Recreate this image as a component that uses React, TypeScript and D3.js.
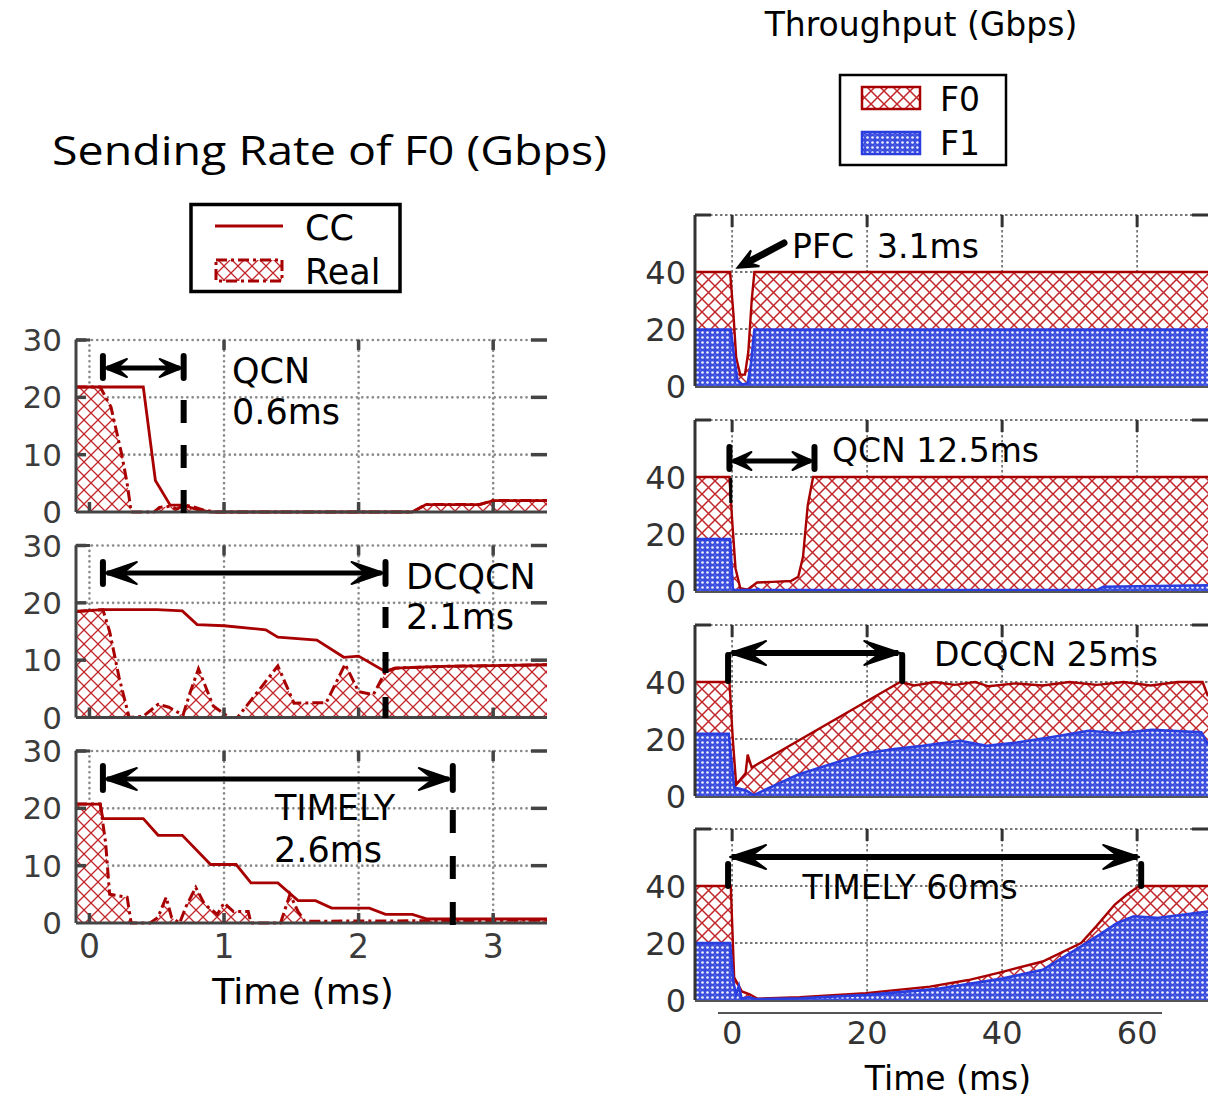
import React from "react";
import * as d3 from "d3";

type P = [number, number];

// ---------- axes / ticks ----------
const leftXTicks = [0, 1, 2, 3];
const leftYTicks = [0, 10, 20, 30];
const rightXTicks = [0, 20, 40, 60];
const rightYTicks = [0, 20, 40];

// ---------- left: sending rate of F0 (Gbps) vs time (ms) ----------
const qcnCC: P[] = [[-0.1, 21.8], [0.4, 21.8], [0.49, 5.5], [0.6, 1.2], [0.7, 1.2], [0.8, 0.4], [0.9, 0], [2.4, 0], [2.5, 1.3], [2.9, 1.3], [3.0, 2], [3.4, 2]];
const qcnReal: P[] = [[-0.1, 21.8], [0.08, 21.8], [0.16, 18.3], [0.24, 10], [0.28, 5], [0.31, 0], [0.48, 0], [0.52, 0.8], [0.6, 1], [0.65, 0.5], [0.7, 1.2], [0.76, 1], [0.85, 0.3], [0.95, 0], [2.4, 0], [2.5, 1.3], [2.9, 1.3], [3.0, 2], [3.4, 2]];

const dcqcnCC: P[] = [[-0.1, 18.5], [0.1, 18.8], [0.5, 18.8], [0.69, 18.6], [0.8, 16.2], [1.0, 16], [1.31, 15.3], [1.4, 14], [1.69, 13.5], [1.89, 10.5], [2.0, 10.7], [2.2, 8], [2.27, 8.6], [2.6, 8.9], [3.4, 9.2]];
const dcqcnReal: P[] = [[-0.1, 18.5], [0.1, 18.8], [0.15, 15], [0.22, 7], [0.295, 0], [0.4, 0.2], [0.51, 2.3], [0.59, 1.8], [0.695, 0.4], [0.75, 4.5], [0.81, 8.5], [0.92, 2], [1.04, 0], [1.1, 0], [1.2, 3], [1.4, 9], [1.52, 2.5], [1.76, 2.6], [1.9, 9.3], [2.0, 4.5], [2.11, 4], [2.2, 8], [2.27, 8.6], [2.6, 8.9], [3.4, 9.2]];

const timelyCC: P[] = [[-0.1, 20.75], [0.08, 20.75], [0.1, 18.2], [0.4, 18.2], [0.51, 15.3], [0.69, 15.3], [0.9, 10.2], [1.09, 10.2], [1.2, 7], [1.4, 7], [1.55, 3.9], [1.68, 3.9], [1.8, 2.6], [2.08, 2.6], [2.2, 1.5], [2.4, 1.5], [2.51, 0.7], [3.4, 0.7]];
const timelyReal: P[] = [[-0.1, 20.75], [0.08, 20.75], [0.12, 14], [0.15, 5], [0.2, 4.8], [0.28, 4.5], [0.31, 0], [0.45, 0], [0.51, 1], [0.57, 4.5], [0.61, 1], [0.67, 0], [0.72, 3], [0.79, 6.2], [0.85, 3.5], [0.88, 2.8], [0.95, 1.5], [1.0, 3.5], [1.07, 2], [1.18, 2], [1.2, 0], [1.42, 0], [1.49, 5], [1.55, 2], [1.6, 0.3], [2.6, 0.4], [3.4, 0.5]];

// ---------- right: throughput (Gbps) vs time (ms); F0 stacked on F1 ----------
const pfcF0Top: P[] = [[-5.5, 40], [-0.3, 40], [0.2, 25], [0.6, 10], [1.2, 4], [1.9, 4], [2.4, 12], [2.9, 30], [3.3, 40], [70.5, 40]];
const pfcF1: P[] = [[-5.5, 19.8], [-0.2, 19.8], [0.3, 10], [0.8, 2], [1.5, 0.5], [2.3, 1], [2.8, 8], [3.3, 19.8], [70.5, 19.8]];

const qcnF0Top: P[] = [[-5.5, 40], [-0.4, 40], [0, 25], [0.5, 8], [1.2, 1], [2.3, 0.5], [3.7, 3], [6, 3.2], [8.7, 3.5], [9.8, 5], [10.5, 12], [11.2, 30], [12, 40], [70.5, 40]];
const qcnF1: P[] = [[-5.5, 18.2], [-0.3, 18.2], [0.1, 1], [0.3, 0.3], [3.5, 0.3], [3.8, 0.8], [4.2, 0.3], [54, 0.3], [55, 1.5], [70.5, 2]];

const dcqcnF0Top: P[] = [[-5.5, 40], [-0.4, 40], [0.1, 20], [0.6, 4], [2.0, 8], [2.3, 14.5], [2.9, 10], [24.9, 40], [27, 38.8], [30, 40], [33, 39], [36, 40], [38, 38.5], [42, 39.5], [46, 38.8], [50, 40], [54, 39], [58, 40], [62, 38.8], [66, 40], [69.7, 40], [70.5, 35]];
const dcqcnF1: P[] = [[-5.5, 21.8], [-0.5, 21.8], [0.3, 3], [2.0, 2], [3.2, 0.3], [9.8, 7.6], [19.8, 15], [24, 16.5], [28.2, 17.6], [31, 18.5], [33.8, 19.4], [37.7, 17.6], [42.2, 18.8], [47.2, 20.6], [52.8, 22.9], [57.2, 22], [62.2, 23.2], [69.5, 22.4], [70.5, 18.2]];

const timelyF0Top: P[] = [[-5.5, 40], [-0.2, 40], [0.3, 8], [1.45, 3], [2.6, 2], [3.7, 0.5], [10, 1], [19.8, 2.4], [29.3, 4.7], [35, 7], [39.9, 9.8], [46, 13.5], [51.7, 20], [54, 26], [56.7, 33.5], [58.5, 37], [60.3, 40], [70.5, 40]];
const timelyF1: P[] = [[-5.5, 20], [-0.3, 20], [0.2, 6], [0.6, 2], [1.0, 5], [1.4, 0.5], [2.5, 1], [3.5, 0.3], [10, 0.6], [20, 1.8], [30, 3.8], [40, 7.5], [46, 10.6], [51.7, 18.8], [54.5, 23], [57, 27], [59.5, 29.4], [62.9, 28.8], [70.5, 31]];

const RED = "#a80000";
const BLUE = "#2a3ee0";
const GRID = "#8a8a8a";
const AX = "#444";

const xL = d3.scaleLinear().domain([-0.1, 3.4]).range([76, 547]);
const leftTops = [340, 545.5, 751];
const LH = 172;
const xR = d3.scaleLinear().domain([-5.5, 70.5]).range([695, 1208]);
const rightTops = [215, 420, 625, 829];
const RH = 171;

function arrowHead(tx: number, ty: number, dx: number, dy: number, L: number, h: number) {
  const px = -dy, py = dx;
  const bx = tx + dx * L, by = ty + dy * L;
  const nx = tx + dx * L * 0.55, ny = ty + dy * L * 0.55;
  return `M${tx},${ty}L${bx + px * h},${by + py * h}L${nx},${ny}L${bx - px * h},${by - py * h}Z`;
}

function HArrow({ x1, x2, y, L, h, sw, capT, capB }: any) {
  return (
    <g>
      <line x1={x1 + 4} x2={x2 - 4} y1={y} y2={y} stroke="#000" strokeWidth={sw} />
      <path d={arrowHead(x1 + 2, y, 1, 0, L, h)} fill="#000" stroke="#000" strokeWidth={2} strokeLinejoin="round" />
      <path d={arrowHead(x2 - 2, y, -1, 0, L, h)} fill="#000" stroke="#000" strokeWidth={2} strokeLinejoin="round" />
      <line x1={x1} x2={x1} y1={capT} y2={capB} stroke="#000" strokeWidth={6} strokeLinecap="round" />
      <line x1={x2} x2={x2} y1={capT} y2={capB} stroke="#000" strokeWidth={6} strokeLinecap="round" />
    </g>
  );
}

function LeftPanel({ top, cc, real, id }: { top: number; cc: P[]; real: P[]; id: string }) {
  const y = d3.scaleLinear().domain([0, 30]).range([top + LH, top]);
  const [x0, x1] = xL.range();
  const area = d3.area<P>().x(d => xL(d[0])).y0(y(0)).y1(d => y(d[1]));
  const line = d3.line<P>().x(d => xL(d[0])).y(d => y(d[1]));
  return (
    <g>
      <defs>
        <clipPath id={id}><rect x={x0} y={top - 2} width={x1 - x0} height={LH + 4} /></clipPath>
      </defs>
      {leftXTicks.map(t => (
        <line key={"gx" + t} x1={xL(t)} x2={xL(t)} y1={top} y2={top + LH} stroke={GRID} strokeWidth={2.6} strokeDasharray="0.1 5.2" strokeLinecap="round" />
      ))}
      {leftYTicks.filter(v => v > 0).map(v => (
        <line key={"gy" + v} x1={x0} x2={x1} y1={y(v)} y2={y(v)} stroke={GRID} strokeWidth={2.6} strokeDasharray="0.1 5.2" strokeLinecap="round" />
      ))}
      <g clipPath={`url(#${id})`}>
        <path d={area(real) || ""} fill="url(#hatchL)" />
        <path d={line(real) || ""} fill="none" stroke={RED} strokeWidth={3} strokeDasharray="11 4 3 4" />
        <path d={line(cc) || ""} fill="none" stroke={RED} strokeWidth={2.8} />
      </g>
      {/* frame */}
      <line x1={x0} x2={x0} y1={top} y2={top + LH} stroke={AX} strokeWidth={3} />
      <line x1={x0} x2={x1} y1={top + LH} y2={top + LH} stroke={AX} strokeWidth={3} />
      <line x1={x0} x2={x0 + 14} y1={top} y2={top} stroke={AX} strokeWidth={3} />
      {leftXTicks.map(t => (
        <g key={"tx" + t}>
          {t > 0 && <line x1={xL(t)} x2={xL(t)} y1={top} y2={top + 10} stroke={AX} strokeWidth={3.5} />}
          <line x1={xL(t)} x2={xL(t)} y1={top + LH} y2={top + LH - 10} stroke={AX} strokeWidth={3.5} />
        </g>
      ))}
      {leftYTicks.filter(v => v > 0).map(v => (
        <g key={"ty" + v}>
          <line x1={x0} x2={x0 + 10} y1={y(v)} y2={y(v)} stroke={AX} strokeWidth={3.5} />
          <line x1={x1} x2={x1 - 16} y1={y(v)} y2={y(v)} stroke={AX} strokeWidth={3.5} />
        </g>
      ))}
      {leftYTicks.map(v => (
        <text key={"ly" + v} x={62} y={y(v) + 11} textAnchor="end" fontSize={31} fill="#3c3c3c" fontFamily="DejaVu Sans">{v}</text>
      ))}
    </g>
  );
}

function RightPanel({ top, f0, f1, id }: { top: number; f0: P[]; f1: P[]; id: string }) {
  const y = d3.scaleLinear().domain([0, 60]).range([top + RH, top]);
  const [x0, x1] = xR.range();
  const area = d3.area<P>().x(d => xR(d[0])).y0(y(0)).y1(d => y(d[1]));
  const line = d3.line<P>().x(d => xR(d[0])).y(d => y(d[1]));
  return (
    <g>
      <defs>
        <clipPath id={id}><rect x={x0} y={top - 2} width={x1 - x0} height={RH + 4} /></clipPath>
      </defs>
      {rightXTicks.map(t => (
        <line key={"gx" + t} x1={xR(t)} x2={xR(t)} y1={top} y2={top + RH} stroke="#777" strokeWidth={1.8} strokeDasharray="2.5 2.5" />
      ))}
      {[20, 40, 60].map(v => (
        <line key={"gy" + v} x1={x0} x2={x1} y1={y(v)} y2={y(v)} stroke="#777" strokeWidth={1.8} strokeDasharray="2.5 2.5" />
      ))}
      <g clipPath={`url(#${id})`}>
        <path d={area(f0) || ""} fill="url(#hatchR)" />
        <path d={area(f1) || ""} fill="url(#dotsB)" />
        <path d={line(f0) || ""} fill="none" stroke={RED} strokeWidth={2.4} />
        <path d={line(f1) || ""} fill="none" stroke={BLUE} strokeWidth={2.6} />
      </g>
      <line x1={x0} x2={x0} y1={top} y2={top + RH} stroke="#333" strokeWidth={3} />
      <line x1={x0} x2={x0 + 16} y1={top} y2={top} stroke="#333" strokeWidth={3} />
      <line x1={x1 - 16} x2={x1} y1={top} y2={top} stroke="#333" strokeWidth={3} />
      <line x1={x0} x2={x1} y1={top + RH + 1} y2={top + RH + 1} stroke="#555" strokeWidth={2} />
      {rightXTicks.map(t => (
        <line key={"tx" + t} x1={xR(t)} x2={xR(t)} y1={top} y2={top + 12} stroke="#333" strokeWidth={3} />
      ))}
      {rightYTicks.map(v => (
        <text key={"ly" + v} x={686} y={y(v) + 12} textAnchor="end" fontSize={32} fill="#333" fontFamily="DejaVu Sans">{v}</text>
      ))}
    </g>
  );
}

export default function App() {
  const yRp = (i: number) => d3.scaleLinear().domain([0, 60]).range([rightTops[i] + RH, rightTops[i]]);
  const ann = { fontFamily: "DejaVu Sans", fontSize: 35, fill: "#000" } as const;
  const annR = { fontFamily: "DejaVu Sans", fontSize: 33, fill: "#000" } as const;
  const pfcTip: P = [xR(0.8), yRp(0)(41.5)];
  const pfcTail: P = [784, 243];
  const dd = Math.hypot(pfcTail[0] - pfcTip[0], pfcTail[1] - pfcTip[1]);
  const ux = (pfcTail[0] - pfcTip[0]) / dd, uy = (pfcTail[1] - pfcTip[1]) / dd;
  return (
    <svg width={1217} height={1103} style={{ display: "block", position: "absolute", left: 0, top: 0, background: "#fff" }}>
      <defs>
        <pattern id="hatchL" patternUnits="userSpaceOnUse" width={14} height={14}>
          <rect width={14} height={14} fill="#fff" />
          <path d="M0,0L14,14M14,0L0,14" stroke="#c2262a" strokeWidth={1.3} />
        </pattern>
        <pattern id="hatchR" patternUnits="userSpaceOnUse" width={13} height={13}>
          <rect width={13} height={13} fill="#fff" />
          <path d="M0,0L13,13M13,0L0,13" stroke="#c2262a" strokeWidth={1.5} />
        </pattern>
        <pattern id="dotsB" patternUnits="userSpaceOnUse" width={10} height={10}>
          <rect width={10} height={10} fill="#3a4ddf" />
          <circle cx={2.5} cy={2.5} r={1.35} fill="#fff" fillOpacity={0.9} />
          <circle cx={7.5} cy={2.5} r={1.35} fill="#fff" fillOpacity={0.9} />
          <circle cx={2.5} cy={7.5} r={1.35} fill="#fff" fillOpacity={0.9} />
          <circle cx={7.5} cy={7.5} r={1.35} fill="#fff" fillOpacity={0.9} />
          <circle cx={5} cy={5} r={0.6} fill="#fff" fillOpacity={0.5} />
          <circle cx={0} cy={0} r={0.6} fill="#fff" fillOpacity={0.5} />
          <circle cx={10} cy={0} r={0.6} fill="#fff" fillOpacity={0.5} />
          <circle cx={0} cy={10} r={0.6} fill="#fff" fillOpacity={0.5} />
          <circle cx={10} cy={10} r={0.6} fill="#fff" fillOpacity={0.5} />
        </pattern>
      </defs>

      {/* Titles */}
      <text x={52} y={165} fontFamily="Open Sans" fontSize={41} textLength={555} lengthAdjust="spacingAndGlyphs" fill="#000">Sending Rate of F0 (Gbps)</text>
      <text x={921} y={36} textAnchor="middle" fontFamily="DejaVu Sans" fontSize={33} fill="#000">Throughput (Gbps)</text>

      {/* Left legend */}
      <rect x={191} y={204.5} width={209} height={87} fill="#fff" stroke="#000" strokeWidth={3.5} />
      <line x1={215} x2={283} y1={226} y2={226} stroke={RED} strokeWidth={3} />
      <text x={305} y={240} fontFamily="DejaVu Sans" fontSize={35}>CC</text>
      <rect x={216} y={260} width={66} height={21} fill="url(#hatchL)" stroke={RED} strokeWidth={3} strokeDasharray="11 4 3 4" />
      <text x={305} y={284} fontFamily="DejaVu Sans" fontSize={35}>Real</text>

      {/* Right legend */}
      <rect x={840} y={75} width={166} height={90} fill="#fff" stroke="#000" strokeWidth={2.5} />
      <rect x={862} y={87} width={58} height={22} fill="url(#hatchR)" stroke={RED} strokeWidth={2.5} />
      <text x={940} y={111} fontFamily="DejaVu Sans" fontSize={33}>F0</text>
      <rect x={862} y={132} width={58} height={22} fill="url(#dotsB)" stroke={BLUE} strokeWidth={2.5} />
      <text x={940} y={155} fontFamily="DejaVu Sans" fontSize={33}>F1</text>

      {/* Left panels */}
      <LeftPanel top={leftTops[0]} cc={qcnCC} real={qcnReal} id="cl0" />
      <LeftPanel top={leftTops[1]} cc={dcqcnCC} real={dcqcnReal} id="cl1" />
      <LeftPanel top={leftTops[2]} cc={timelyCC} real={timelyReal} id="cl2" />
      {leftXTicks.map(t => (
        <text key={"lx" + t} x={xL(t)} y={958} textAnchor="middle" fontSize={33} fill="#3c3c3c" fontFamily="DejaVu Sans">{t}</text>
      ))}
      <text x={303} y={1004} textAnchor="middle" fontFamily="DejaVu Sans" fontSize={36} fill="#000">Time (ms)</text>

      {/* Left annotations */}
      <HArrow x1={xL(0.1)} x2={xL(0.7)} y={368} L={22} h={9} sw={5} capT={356} capB={378} />
      <line x1={xL(0.7)} x2={xL(0.7)} y1={400} y2={513} stroke="#000" strokeWidth={6} strokeDasharray="23 22" />
      <text x={232} y={383} {...ann}>QCN</text>
      <text x={232} y={424} {...ann}>0.6ms</text>

      <HArrow x1={xL(0.1)} x2={xL(2.2)} y={573} L={32} h={11} sw={5} capT={562} capB={584} />
      <line x1={xL(2.2)} x2={xL(2.2)} y1={607} y2={720} stroke="#000" strokeWidth={6} strokeDasharray="21 24" />
      <text x={406} y={589} {...ann}>DCQCN</text>
      <text x={406} y={629} {...ann}>2.1ms</text>

      <HArrow x1={xL(0.1)} x2={xL(2.7)} y={779} L={32} h={11} sw={5} capT={766} capB={790} />
      <line x1={xL(2.7)} x2={xL(2.7)} y1={810} y2={925} stroke="#000" strokeWidth={6} strokeDasharray="23 23" />
      <text x={335} y={820} textAnchor="middle" {...ann}>TIMELY</text>
      <text x={328} y={862} textAnchor="middle" {...ann}>2.6ms</text>

      {/* Right panels */}
      <RightPanel top={rightTops[0]} f0={pfcF0Top} f1={pfcF1} id="cr0" />
      <RightPanel top={rightTops[1]} f0={qcnF0Top} f1={qcnF1} id="cr1" />
      <RightPanel top={rightTops[2]} f0={dcqcnF0Top} f1={dcqcnF1} id="cr2" />
      <RightPanel top={rightTops[3]} f0={timelyF0Top} f1={timelyF1} id="cr3" />
      <line x1={718} x2={1162} y1={1013} y2={1013} stroke="#555" strokeWidth={2} />
      {rightXTicks.map(t => (
        <text key={"rx" + t} x={xR(t)} y={1044} textAnchor="middle" fontSize={32} fill="#333" fontFamily="DejaVu Sans">{t}</text>
      ))}
      <text x={948} y={1090} textAnchor="middle" fontFamily="DejaVu Sans" fontSize={33} fill="#000">Time (ms)</text>

      {/* Right annotations */}
      <line x1={pfcTail[0]} y1={pfcTail[1]} x2={pfcTip[0] + ux * 14} y2={pfcTip[1] + uy * 14} stroke="#000" strokeWidth={7} strokeLinecap="round" />
      <path d={arrowHead(pfcTip[0], pfcTip[1], ux, uy, 20, 9)} fill="#000" stroke="#000" strokeWidth={2} />
      <text x={792} y={258} {...annR}>PFC</text>
      <text x={877} y={258} {...annR}>3.1ms</text>

      <HArrow x1={xR(-0.4)} x2={xR(12.2)} y={461} L={20} h={9} sw={5} capT={447} capB={469} />
      <line x1={xR(-0.2)} x2={xR(-0.2)} y1={478} y2={503} stroke="#000" strokeWidth={3} />
      <text x={832} y={462} {...annR}>QCN 12.5ms</text>

      <HArrow x1={xR(-0.6)} x2={xR(25.2)} y={653} L={36} h={12} sw={6} capT={655} capB={681} />
      <text x={934} y={666} {...annR}>DCQCN 25ms</text>

      <HArrow x1={xR(-0.6)} x2={xR(60.6)} y={857} L={36} h={12} sw={6} capT={864} capB={886} />
      <text x={910} y={899} textAnchor="middle" {...annR}>TIMELY 60ms</text>
    </svg>
  );
}
